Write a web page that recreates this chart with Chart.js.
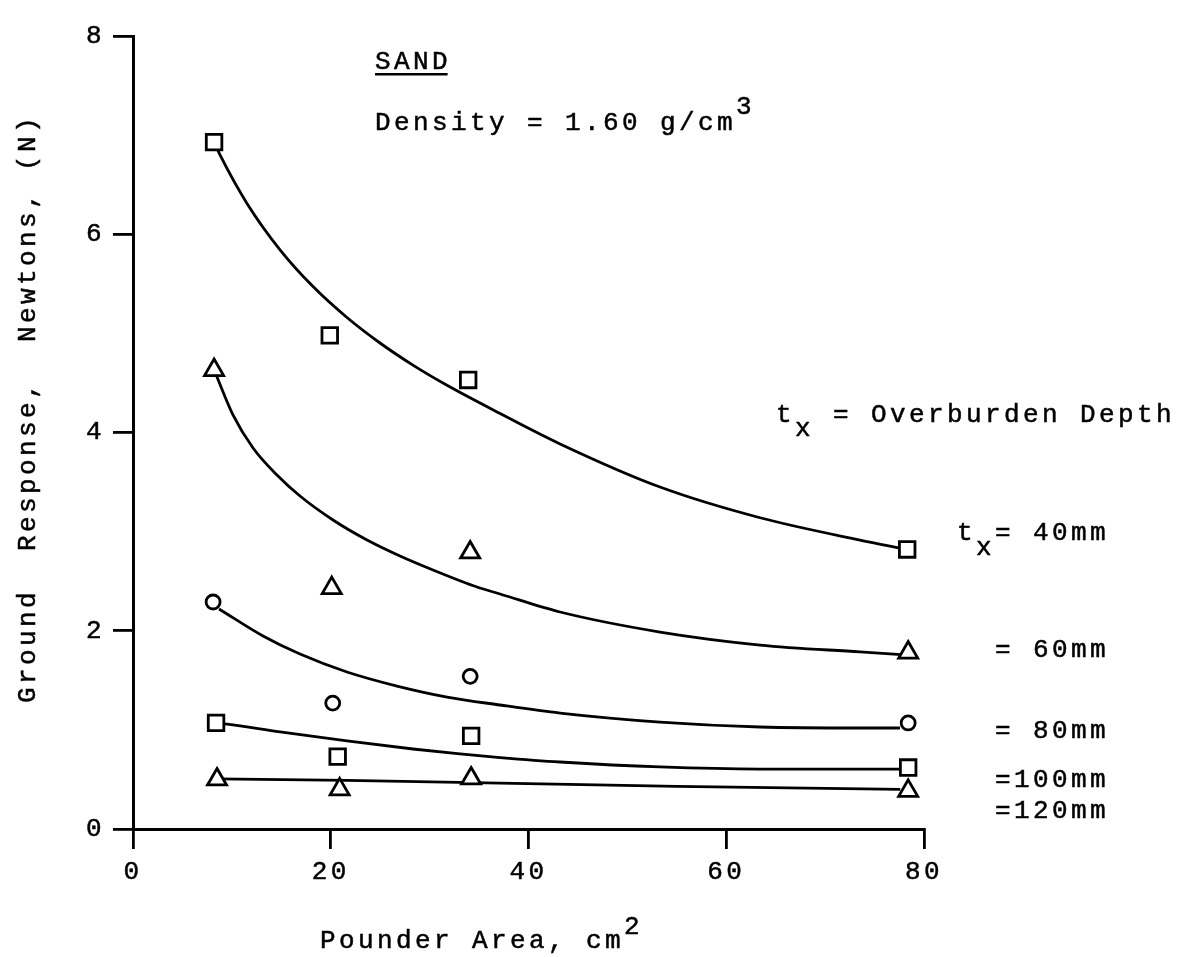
<!DOCTYPE html>
<html>
<head>
<meta charset="utf-8">
<script src="https://cdn.jsdelivr.net/npm/chart.js@4.4.1/dist/chart.umd.min.js"></script>
<style>
  html, body { margin: 0; padding: 0; background: #fff; }
  canvas { display: block; }
</style>
</head>
<body>
<canvas id="c" width="1186" height="957"></canvas>
<script>
// ---------- data ----------
const xTickValues = [0, 20, 40, 60, 80];
const yTickValues = [0, 2, 4, 6, 8];

// measured points, pounder area (cm^2) vs ground response (N)
const area40  = [8.2, 19.9, 33.9, 78.3];
const resp40  = [6.93, 4.98, 4.53, 2.82];
const area60  = [8.2, 20.1, 34.1, 78.4];
const resp60  = [4.63, 2.43, 2.79, 1.78];
const area80  = [8.1, 20.2, 34.1, 78.4];
const resp80  = [2.29, 1.27, 1.54, 1.07];
const area100 = [8.4, 20.7, 34.2, 78.4];
const resp100 = [1.07, 0.73, 0.94, 0.62];
const area120 = [8.5, 20.9, 34.2, 78.4];
const resp120 = [0.50, 0.40, 0.51, 0.385];

// hand-drawn trend curves, read along their length
const fitX40 = [8.2, 8.8, 11.53, 14.87, 18.21, 21.64, 24.98, 28.31, 31.76, 37.12, 43.19, 53.30, 63.42, 73.53, 78.08];
const fitY40 = [6.93, 6.80, 6.311, 5.843, 5.472, 5.160, 4.903, 4.680, 4.476, 4.192, 3.885, 3.45, 3.14, 2.915, 2.825];
const fitX60 = [8.29, 10.11, 12.14, 14.56, 16.89, 20.23, 23.67, 27.00, 30.34, 34.79, 37.12, 43.19, 53.30, 63.42, 73.53, 78.08];
const fitY60 = [4.61, 4.177, 3.844, 3.571, 3.359, 3.117, 2.915, 2.754, 2.613, 2.441, 2.371, 2.189, 1.987, 1.856, 1.786, 1.756];
const fitX80 = [8.70, 13.15, 16.89, 21.64, 26.70, 31.76, 37.12, 43.19, 53.30, 63.42, 73.53, 77.57];
const fitY80 = [2.22, 1.947, 1.765, 1.584, 1.442, 1.331, 1.251, 1.170, 1.079, 1.029, 1.019, 1.019];
const fitX100 = [8.4, 9.51, 14.87, 21.64, 28.32, 33.07, 37.12, 43.19, 53.30, 63.42, 77.57];
const fitY100 = [1.07, 1.059, 0.979, 0.888, 0.807, 0.757, 0.721, 0.676, 0.626, 0.605, 0.605];
const fitX120 = [8.5, 21.6, 37.1, 55.0, 77.6];
const fitY120 = [0.505, 0.49, 0.463, 0.43, 0.40];

// texts
const xTitle = 'Pounder Area, cm';
const xTitleSup = '2';
const yTitle = 'Ground  Response,  Newtons, (N)';
const soilLabel = 'SAND';
const densityLabel = 'Density = 1.60 g/cm';
const densitySup = '3';
const depthLabels = ['= 40mm', '= 60mm', '= 80mm', '=100mm', '=120mm'];

// ---------- styling ----------
const FONT_FAMILY = '"Liberation Mono", "DejaVu Sans Mono", monospace';
const FONT_SIZE = 26;
const FONT = FONT_SIZE + 'px ' + FONT_FAMILY;
const LETTER_SPACING = '3.4px';
const TEXT_STROKE = 0.5;

function pts(xs, ys) { return xs.map((x, i) => ({ x: x, y: ys[i] })); }

function markerSet(xs, ys, style, radius) {
  return {
    type: 'scatter', data: pts(xs, ys), showLine: false,
    pointStyle: style, pointRadius: radius, pointHoverRadius: radius,
    pointBackgroundColor: '#fff', pointBorderColor: '#000', pointBorderWidth: 2.8,
    order: 0
  };
}
function curveSet(xs, ys) {
  return {
    type: 'line', data: pts(xs, ys), showLine: true, fill: false,
    borderColor: '#000', borderWidth: 2.8, pointRadius: 0, pointHoverRadius: 0,
    cubicInterpolationMode: 'monotone', order: 1
  };
}

function put(ctx, s, x, y) {
  ctx.strokeText(s, x, y);
  ctx.fillText(s, x, y);
}
function drawRun(ctx, x, y, parts) {
  let cx = x;
  for (const p of parts) {
    put(ctx, p.t, cx, y + (p.dy || 0));
    cx += ctx.measureText(p.t).width;
  }
}

const textPlugin = {
  id: 'texts',
  beforeDraw(chart) {
    const ctx = chart.ctx;
    ctx.save();
    ctx.fillStyle = '#fff';
    ctx.fillRect(0, 0, chart.width, chart.height);
    ctx.restore();
    ctx.letterSpacing = LETTER_SPACING;
  },
  afterDraw(chart) {
    const ctx = chart.ctx;
    const a = chart.chartArea;
    ctx.save();
    ctx.font = FONT;
    ctx.letterSpacing = LETTER_SPACING;
    ctx.fillStyle = '#000';
    ctx.strokeStyle = '#000';
    ctx.lineWidth = TEXT_STROKE;
    ctx.textAlign = 'left';
    ctx.textBaseline = 'alphabetic';
    const ls = parseFloat(LETTER_SPACING);

    // SAND (underlined)
    const sx = a.left + 242, sy = a.top + 33;
    put(ctx, soilLabel, sx, sy);
    const sw = ctx.measureText(soilLabel).width - ls;
    ctx.fillRect(sx, sy + 4, sw, 2.5);

    // Density
    drawRun(ctx, sx, a.top + 94, [{ t: densityLabel }, { t: densitySup, dy: -16 }]);

    // Overburden depth legend
    drawRun(ctx, a.right - 148, a.top + 386, [{ t: 't' }, { t: 'x', dy: 14 }, { t: ' = Overburden Depth' }]);
    drawRun(ctx, a.right + 33, a.top + 504, [{ t: 't' }, { t: 'x', dy: 15 }]);
    const lx = a.right + 71;
    const ly = [504, 621, 702, 751, 782];
    depthLabels.forEach((s, i) => put(ctx, s, lx, a.top + ly[i]));

    // x title with superscript
    drawRun(ctx, 320, 948, [{ t: xTitle }, { t: xTitleSup, dy: -14 }]);

    // y title rotated
    ctx.translate(35, 703);
    ctx.rotate(-Math.PI / 2);
    put(ctx, yTitle, 0, 0);
    ctx.restore();
  }
};

const tickFont = { family: FONT_FAMILY, size: FONT_SIZE };

const chart = new Chart(document.getElementById('c'), {
  type: 'scatter',
  data: {
    datasets: [
      markerSet(area40, resp40, 'rect', 11),
      markerSet(area60, resp60, 'triangle', 11),
      markerSet(area80, resp80, 'circle', 7),
      markerSet(area100, resp100, 'rect', 11),
      markerSet(area120, resp120, 'triangle', 11),
      curveSet(fitX40, fitY40),
      curveSet(fitX60, fitY60),
      curveSet(fitX80, fitY80),
      curveSet(fitX100, fitY100),
      curveSet(fitX120, fitY120)
    ]
  },
  options: {
    responsive: false,
    animation: false,
    devicePixelRatio: 1,
    layout: { padding: { top: 36, right: 262, left: 0, bottom: 0 } },
    plugins: { legend: { display: false }, tooltip: { enabled: false } },
    scales: {
      x: {
        type: 'linear', min: 0, max: 80,
        afterBuildTicks(s) { s.ticks = xTickValues.map(v => ({ value: v })); },
        afterFit(s) { s.height = 128; },
        ticks: { color: '#000', font: tickFont, padding: 8, textStrokeColor: '#000', textStrokeWidth: TEXT_STROKE },
        grid: { drawOnChartArea: false, drawTicks: true, tickLength: 20, color: '#000', lineWidth: 2.8 },
        border: { display: true, color: '#000', width: 3 }
      },
      y: {
        type: 'linear', min: 0, max: 8,
        afterBuildTicks(s) { s.ticks = yTickValues.map(v => ({ value: v })); },
        afterFit(s) { s.width = 133; },
        ticks: { color: '#000', font: tickFont, padding: 8, textStrokeColor: '#000', textStrokeWidth: TEXT_STROKE },
        grid: { drawOnChartArea: false, drawTicks: true, tickLength: 20, color: '#000', lineWidth: 2.8 },
        border: { display: true, color: '#000', width: 3 }
      }
    }
  },
  plugins: [textPlugin]
});
</script>
</body>
</html>
